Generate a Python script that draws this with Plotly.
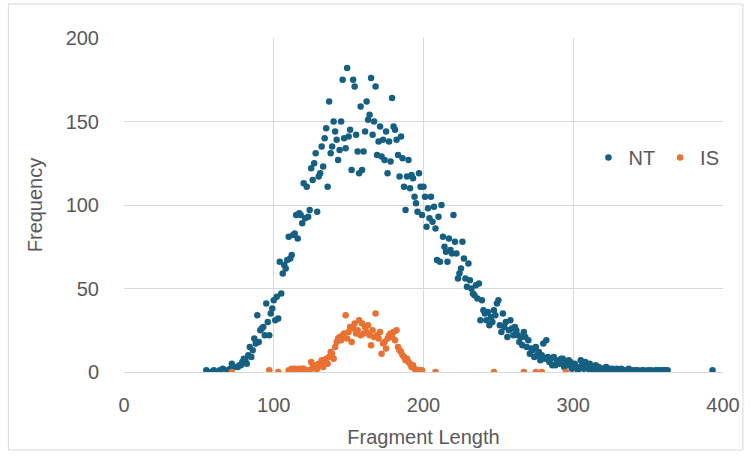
import plotly.graph_objects as go

# NT series (fragment length, frequency)
nt_x = [55, 58, 60, 64, 66, 69, 71, 72, 74, 76, 77, 78, 79, 80, 81, 82, 83, 84, 85, 86, 87, 88, 89, 90,
        91, 92, 93, 94, 95, 96, 97, 98, 99, 100, 101, 102, 103, 104, 105, 106, 107, 108, 109, 110,
        111, 112, 113, 114, 115, 116, 117, 118, 119, 120, 121, 122, 123, 124, 125, 126, 127, 128, 129, 130,
        131, 132, 133, 134, 135, 136, 137, 138, 139, 140, 141, 142, 143, 144, 145, 146, 147, 148, 149, 150,
        151, 152, 153, 154, 155, 156, 157, 158, 159, 160, 161, 162, 163, 164, 165, 166, 167, 168, 169, 170,
        171, 172, 173, 174, 175, 176, 177, 178, 179, 180, 181, 182, 183, 184, 185, 186, 187, 188, 189, 190,
        191, 192, 193, 194, 195, 196, 197, 198, 199, 200, 201, 202, 203, 204, 205, 206, 207, 208, 209, 210,
        211, 212, 213, 214, 215, 216, 217, 218, 219, 220, 221, 222, 223, 224, 225, 226, 227, 228, 229, 230,
        231, 232, 233, 234, 235, 236, 237, 238, 239, 240, 241, 242, 243, 244, 245, 246, 247, 248, 249, 250,
        251, 252, 253, 254, 255, 256, 257, 258, 259, 260, 261, 262, 263, 264, 265, 266, 267, 268, 269, 270,
        271, 272, 273, 274, 275, 276, 277, 278, 279, 280, 281, 282, 283, 284, 285, 286, 287, 288, 289, 290,
        291, 292, 293, 294, 295, 296, 297, 298, 299, 300, 301, 302, 303, 304, 305, 306, 307, 308, 309, 310,
        311, 312, 313, 314, 315, 316, 317, 318, 319, 320, 321, 322, 323, 324, 325, 326, 327, 328, 329, 330,
        331, 332, 333, 334, 336, 337, 338, 339, 340, 342, 343, 344, 346, 347, 349, 350, 352, 353, 355, 356,
        358, 360, 361, 363, 393]
nt_y = [1, 0, 1, 1, 2, 1, 2, 5, 3, 3, 4, 4, 6, 8, 7, 5, 10, 15, 9, 13, 20, 17, 34, 18,
        25, 26, 27, 22, 41, 30, 22, 35, 38, 43, 31, 45, 32, 66, 47, 59, 64, 62, 67, 81,
        68, 70, 82, 83, 94, 80, 95, 94, 89, 113, 92, 111, 93, 97, 122, 115, 125, 131, 96, 117,
        119, 135, 123, 140, 146, 111, 162, 131, 135, 150, 144, 139, 127, 133, 150, 175, 140, 134, 182, 141,
        145, 121, 175, 171, 142, 132, 119, 159, 121, 132, 144, 162, 151, 154, 176, 142, 150, 171, 130, 138,
        147, 129, 139, 127, 144, 119, 138, 126, 164, 147, 145, 139, 130, 117, 141, 128, 111, 97, 117, 127,
        110, 118, 116, 105, 101, 96, 119, 111, 94, 111, 105, 87, 98, 92, 105, 90, 99, 86, 67, 93,
        66, 100, 81, 75, 72, 66, 80, 73, 71, 94, 78, 71, 56, 59, 62, 78, 68, 56, 51, 65,
        55, 50, 47, 46, 52, 44, 53, 31, 43, 37, 35, 31, 36, 28, 33, 30, 37, 34, 41, 43,
        28, 24, 35, 27, 30, 21, 25, 31, 26, 22, 27, 25, 22, 18, 21, 16, 24, 21, 15, 19,
        11, 14, 13, 9, 15, 10, 12, 7, 10, 17, 8, 19, 9, 6, 8, 4, 9, 4, 6, 7,
        5, 8, 8, 3, 6, 4, 7, 6, 2, 4, 5, 3, 1, 3, 7, 4, 2, 6, 3, 2,
        5, 1, 3, 2, 4, 1, 3, 1, 2, 2, 1, 3, 1, 2, 1, 2, 1, 1, 2, 1,
        0, 2, 1, 1, 1, 2, 1, 0, 1, 1, 1, 0, 1, 1, 0, 1, 1, 0, 1, 1,
        1, 1, 1, 1, 1]

# IS series
is_x = [72, 97, 103, 110, 112, 114, 116, 117, 119, 120, 122, 124, 125, 126, 127, 128, 129, 130,
        131, 132, 133, 134, 135, 136, 137, 138, 139, 140, 141, 142, 143, 144, 145, 146, 147, 148, 149, 150,
        151, 152, 153, 154, 155, 156, 157, 158, 159, 160, 161, 162, 163, 164, 165, 166, 167, 168, 169, 170,
        171, 172, 173, 174, 175, 176, 177, 178, 179, 180, 181, 182, 183, 184, 185, 186, 187, 188, 189, 190,
        191, 192, 193, 194, 195, 197, 199, 208, 247, 267, 275, 279, 295]
is_y = [0, 1, 0, 1, 2, 2, 1, 2, 2, 2, 1, 1, 6, 3, 4, 2, 2, 5,
        4, 7, 3, 6, 8, 5, 9, 12, 11, 8, 15, 18, 20, 21, 19, 22, 23, 34, 20, 24,
        27, 18, 26, 29, 23, 25, 31, 22, 29, 23, 27, 24, 28, 22, 16, 25, 21, 35, 22, 20,
        24, 11, 17, 18, 14, 20, 22, 23, 21, 24, 19, 25, 15, 13, 12, 10, 9, 7, 8, 6,
        5, 3, 4, 2, 1, 1, 1, 0, 0, 0, 0, 0, 0]

x_ticks = [0, 100, 200, 300, 400]
y_ticks = [0, 50, 100, 150, 200]

NT_COLOR = "#156082"
IS_COLOR = "#E97132"
FONT = "Liberation Sans, Arial, sans-serif"

fig = go.Figure()
fig.add_trace(go.Scatter(x=nt_x, y=nt_y, mode="markers", name="NT",
                         marker=dict(color=NT_COLOR, size=6.5, line=dict(width=0))))
fig.add_trace(go.Scatter(x=is_x, y=is_y, mode="markers", name="IS",
                         marker=dict(color=IS_COLOR, size=6.5, line=dict(width=0))))

L, R, T, B = 124, 27, 38, 84
W, H = 752, 456
pw, ph = W - L - R, H - T - B

def px_x(p):
    return (p - L) / pw

def px_y(p):
    return (H - B - p) / ph

fig.update_layout(
    width=W, height=H,
    margin=dict(l=L, r=R, t=T, b=B, pad=0),
    paper_bgcolor="white", plot_bgcolor="white",
    font=dict(family=FONT, size=20, color="#595959"),
    showlegend=True,
    legend=dict(orientation="h", x=px_x(590), y=px_y(138), xanchor="left", yanchor="top",
                font=dict(size=20, color="#595959"), itemwidth=30, bgcolor="rgba(0,0,0,0)",
                traceorder="normal"),
    xaxis=dict(range=[0, 400], tickvals=x_ticks, ticktext=[str(v) for v in x_ticks],
               showgrid=True, gridcolor="#D9D9D9", gridwidth=1.3, zeroline=False,
               showline=False, ticks="", ticklabelstandoff=19,
               title=dict(text="Fragment Length", standoff=14, font=dict(size=20, color="#595959"))),
    yaxis=dict(range=[0, 200], tickvals=y_ticks, ticktext=[str(v) for v in y_ticks],
               showgrid=True, gridcolor="#D9D9D9", gridwidth=1.3, zeroline=True,
               zerolinecolor="#D9D9D9", zerolinewidth=1.3,
               showline=False, ticks="", ticklabelstandoff=24,
               title=dict(text="Frequency", standoff=17, font=dict(size=20, color="#595959"))),
)

fig.add_shape(type="rect", xref="paper", yref="paper",
              x0=px_x(8), x1=px_x(745), y0=px_y(450), y1=px_y(4),
              line=dict(color="#D9D9D9", width=1), fillcolor="rgba(0,0,0,0)", layer="below")

fig.write_html("out.html", config={"displayModeBar": False},
               post_script="document.body.style.margin='0px';")
